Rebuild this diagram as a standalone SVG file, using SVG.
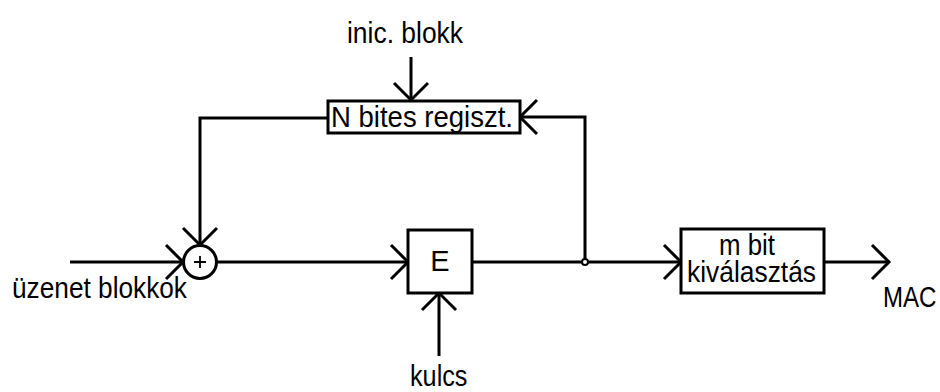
<svg xmlns="http://www.w3.org/2000/svg" width="940" height="392" viewBox="0 0 940 392">
<defs>
<style>
.ln{fill:none;stroke:#000;stroke-width:3}
.box{fill:#fff;stroke:#000;stroke-width:3}
.t{font-family:"Liberation Sans",Arial,sans-serif;font-size:29px;fill:#000}
.m{text-anchor:middle}
</style>
<marker id="ah" viewBox="-20 -20 24 40" markerWidth="24" markerHeight="40" refX="0" refY="0" orient="auto" markerUnits="userSpaceOnUse">
<path d="M-17,-17 L0,0 L-17,17" fill="none" stroke="#000" stroke-width="3"/>
</marker>
</defs>
<rect width="940" height="392" fill="#fff"/>
<g id="connectors">
<path class="ln" d="M70,262 L183,262" marker-end="url(#ah)"/>
<path class="ln" d="M217,262 L408,262" marker-end="url(#ah)"/>
<path class="ln" d="M472,262 L681,262" marker-end="url(#ah)"/>
<path class="ln" d="M585,262 L585,117 L520,117" marker-end="url(#ah)"/>
<path class="ln" d="M328,118 L200,118 L200,245" marker-end="url(#ah)"/>
<path class="ln" d="M411,57 L411,100" marker-end="url(#ah)"/>
<path class="ln" d="M439,356 L439,293" marker-end="url(#ah)"/>
<path class="ln" d="M824,262 L889,262" marker-end="url(#ah)"/>
<circle cx="585" cy="262" r="3" fill="#fff" stroke="#000" stroke-width="2"/>
</g>
<g id="sum">
<circle cx="200" cy="262" r="16.5" class="box"/>
<path d="M194,262 L206,262 M200,256 L200,268" stroke="#000" stroke-width="1.8"/>
</g>
<g id="register">
<rect x="328" y="101" width="192" height="32" class="box"/>
<text class="t" x="331" y="127" textLength="182" lengthAdjust="spacingAndGlyphs">N bites regiszt.</text>
</g>
<g id="E">
<rect x="408" y="230" width="64" height="63" class="box"/>
<text class="t m" x="440" y="271">E</text>
</g>
<g id="mbit">
<rect x="681" y="229" width="143" height="64" class="box"/>
<text class="t" x="719" y="255" textLength="56" lengthAdjust="spacingAndGlyphs">m bit</text>
<text class="t" x="687" y="282" textLength="129" lengthAdjust="spacingAndGlyphs">kiválasztás</text>
</g>
<g id="labels">
<text class="t" x="347" y="43" textLength="116" lengthAdjust="spacingAndGlyphs">inic. blokk</text>
<text class="t" x="12" y="298" textLength="175" lengthAdjust="spacingAndGlyphs">üzenet blokkok</text>
<text class="t" transform="translate(410,386) scale(0.87,1)" x="0" y="0">kulcs</text>
<text class="t" transform="translate(883,307) scale(0.83,1)" x="0" y="0">MAC</text>
</g>
</svg>
